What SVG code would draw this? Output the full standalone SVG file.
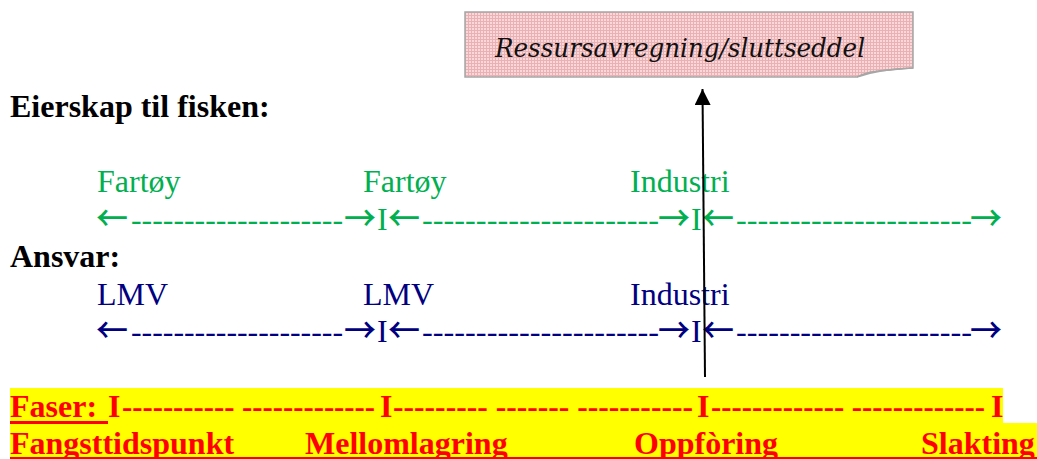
<svg xmlns="http://www.w3.org/2000/svg" width="1037" height="459" viewBox="0 0 1037 459">
<style>
text{font-family:"Liberation Serif","Times New Roman","DejaVu Serif",serif;font-size:32px}
.b{font-weight:bold}
.g{fill:#00b050}
.n{fill:#000080}
.r{fill:#ff0000;font-weight:bold}
.k{fill:#000}
.ar{font-family:"Noto Sans CJK JP","Noto Sans CJK SC","DejaVu Sans",sans-serif;font-size:34px;font-weight:500}
.note{font-family:"DejaVu Serif",serif;font-style:italic;font-size:26px;fill:#111}
</style>
<defs>
<pattern id="pk" width="3" height="3" patternUnits="userSpaceOnUse">
<rect width="3" height="3" fill="#f8d8d9"/>
<rect width="3" height="1" fill="#eab0b3"/>
<rect width="1" height="3" fill="#eab0b3"/>
</pattern>
<marker id="ah" viewBox="0 0 10 10" refX="10" refY="5" markerWidth="16" markerHeight="16" markerUnits="userSpaceOnUse" orient="auto">
<path d="M0,0 L10,5 L0,10 Z" fill="#000"/>
</marker>
</defs>
<rect width="1037" height="459" fill="#fff"/>

<g id="note-box">
<path d="M465,12 H913 V68 Q880,69 857,77 H465 Z" fill="url(#pk)" stroke="#a6a6a6" stroke-width="1.5"/>
<path d="M857,77 Q866,70 913,68 Q882,71 870,72 Z" fill="#d9a9ab" stroke="#a6a6a6" stroke-width="1"/>
<text class="note" x="495" y="57" textLength="370" lengthAdjust="spacingAndGlyphs">Ressursavregning/sluttseddel</text>
</g>

<g id="heading-eierskap">
<text class="b k" x="10" y="117">Eierskap til fisken:</text>
</g>

<g id="eierskap-row">
<text class="g" x="97" y="192">Fartøy</text>
<text class="g" x="363" y="192">Fartøy</text>
<text class="g" x="630" y="192">Industri</text>
<text class="g ar" x="96" y="231" textLength="32" lengthAdjust="spacingAndGlyphs">←</text>
<text class="g" x="131" y="230" textLength="212" lengthAdjust="spacingAndGlyphs">--------------------</text>
<text class="g ar" x="344" y="231" textLength="32" lengthAdjust="spacingAndGlyphs">→</text>
<text class="g" x="377" y="230">I</text>
<text class="g ar" x="388" y="231" textLength="32" lengthAdjust="spacingAndGlyphs">←</text>
<text class="g" x="422" y="230" textLength="237" lengthAdjust="spacingAndGlyphs">----------------------</text>
<text class="g ar" x="658" y="231" textLength="32" lengthAdjust="spacingAndGlyphs">→</text>
<text class="g" x="691" y="230">I</text>
<text class="g ar" x="702" y="231" textLength="32" lengthAdjust="spacingAndGlyphs">←</text>
<text class="g" x="736" y="230" textLength="236" lengthAdjust="spacingAndGlyphs">----------------------</text>
<text class="g ar" x="970" y="231" textLength="32" lengthAdjust="spacingAndGlyphs">→</text>
</g>

<g id="heading-ansvar">
<text class="b k" x="10" y="267">Ansvar:</text>
</g>

<g id="ansvar-row">
<text class="n" x="97" y="305">LMV</text>
<text class="n" x="363" y="305">LMV</text>
<text class="n" x="630" y="305">Industri</text>
<text class="n ar" x="96" y="343" textLength="32" lengthAdjust="spacingAndGlyphs">←</text>
<text class="n" x="131" y="342" textLength="212" lengthAdjust="spacingAndGlyphs">--------------------</text>
<text class="n ar" x="344" y="343" textLength="32" lengthAdjust="spacingAndGlyphs">→</text>
<text class="n" x="377" y="342">I</text>
<text class="n ar" x="388" y="343" textLength="32" lengthAdjust="spacingAndGlyphs">←</text>
<text class="n" x="422" y="342" textLength="237" lengthAdjust="spacingAndGlyphs">----------------------</text>
<text class="n ar" x="658" y="343" textLength="32" lengthAdjust="spacingAndGlyphs">→</text>
<text class="n" x="691" y="342">I</text>
<text class="n ar" x="702" y="343" textLength="32" lengthAdjust="spacingAndGlyphs">←</text>
<text class="n" x="736" y="342" textLength="236" lengthAdjust="spacingAndGlyphs">----------------------</text>
<text class="n ar" x="970" y="343" textLength="32" lengthAdjust="spacingAndGlyphs">→</text>
</g>

<g id="faser">
<rect x="10" y="388" width="993" height="36" fill="#ffff00"/>
<rect x="10" y="423" width="1027" height="36" fill="#ffff00"/>
<text class="r" x="10" y="417">Faser:</text>
<rect x="10" y="421" width="98" height="3" fill="#ff0000"/>
<text class="r" x="108" y="417">I</text>
<text class="r" x="122" y="417" textLength="253" lengthAdjust="spacingAndGlyphs">----------- -------------</text>
<text class="r" x="380" y="417">I</text>
<text class="r" x="393" y="417" textLength="300" lengthAdjust="spacingAndGlyphs">--------- ------- -----------</text>
<text class="r" x="697" y="417">I</text>
<text class="r" x="711" y="417" textLength="274" lengthAdjust="spacingAndGlyphs">------------- -------------</text>
<text class="r" x="991" y="417">I</text>
<text class="r" x="10" y="454">Fangsttidspunkt</text>
<text class="r" x="305" y="454">Mellomlagring</text>
<text class="r" x="634" y="454">Oppfòring</text>
<text class="r" x="921" y="454">Slakting</text>
<rect x="10" y="457" width="1027" height="2" fill="#ff0000"/>
</g>

<g id="connectors">
<line x1="705" y1="377" x2="702.5" y2="89" stroke="#000" stroke-width="2" marker-end="url(#ah)"/>
</g>
</svg>
